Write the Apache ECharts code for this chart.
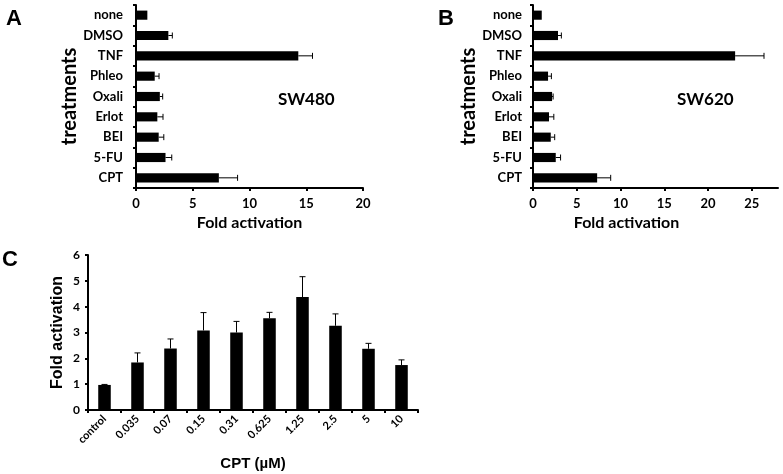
<!DOCTYPE html>
<html><head><meta charset="utf-8">
<script src="https://cdn.jsdelivr.net/npm/echarts@6/dist/echarts.min.js"></script>
<style>html,body{margin:0;padding:0;background:#fff}#c{width:783px;height:474px}</style>
</head><body><div id="c"></div>
<script>
const treatments = ['none','DMSO','TNF','Phleo','Oxali','Erlot','BEI','5-FU','CPT'];
const sw480Mean = [1.0, 2.85, 14.3, 1.65, 2.1, 1.88, 2.0, 2.6, 7.3];
const sw480Err  = [0.0, 0.35, 1.25, 0.38, 0.25, 0.5, 0.45, 0.55, 1.65];
const sw620Mean = [1.0, 2.86, 23.1, 1.72, 2.18, 1.83, 2.03, 2.6, 7.33];
const sw620Err  = [0.0, 0.38, 3.3, 0.38, 0.12, 0.55, 0.45, 0.55, 1.55];
const cptDoses = ['control','0.035','0.07','0.15','0.31','0.625','1.25','2.5','5','10'];
const cptMean = [0.97, 1.84, 2.38, 3.08, 3.0, 3.55, 4.37, 3.26, 2.37, 1.74];
const cptErr  = [0.02, 0.37, 0.37, 0.69, 0.43, 0.23, 0.79, 0.46, 0.21, 0.2];
const ticksB = [0,5,10,15,20,25];

const calibri = 'Lato';
const arial = 'Liberation Sans';
const axisLine = {show:true, lineStyle:{color:'#000', width:2}};
const axisTick = {show:true, length:3, lineStyle:{color:'#000', width:2}};

function hErr(params, api){
  const v = api.value(0), idx = api.value(1), e = api.value(2);
  if (e <= 0) return null;
  const p0 = api.coord([v, idx]);
  const p1 = api.coord([v+e, idx]);
  const h = 3;
  return {type:'group', children:[
    {type:'line', shape:{x1:p0[0], y1:p0[1], x2:p1[0], y2:p1[1]}, style:{stroke:'#000', lineWidth:1}},
    {type:'line', shape:{x1:p1[0], y1:p1[1]-h, x2:p1[0], y2:p1[1]+h}, style:{stroke:'#000', lineWidth:1}}
  ]};
}
function vErr(params, api){
  const idx = api.value(0), v = api.value(1), e = api.value(2);
  const p0 = api.coord([idx, v]);
  const p1 = api.coord([idx, v+e]);
  const w = 3;
  return {type:'group', children:[
    {type:'line', shape:{x1:p0[0], y1:p0[1], x2:p1[0], y2:p1[1]}, style:{stroke:'#000', lineWidth:1}},
    {type:'line', shape:{x1:p1[0]-w, y1:p1[1], x2:p1[0]+w, y2:p1[1]}, style:{stroke:'#000', lineWidth:1}}
  ]};
}

const chart = echarts.init(document.getElementById('c'));
chart.setOption({
  animation:false,
  backgroundColor:'#fff',
  graphic:[
    {type:'text', left:6, top:8, style:{text:'A', font:'bold 22px "Liberation Sans"', fill:'#000'}},
    {type:'text', left:438, top:8, style:{text:'B', font:'bold 22px "Liberation Sans"', fill:'#000'}},
    {type:'text', left:2, top:249, style:{text:'C', font:'bold 22px "Liberation Sans"', fill:'#000'}},
    {type:'text', left:278, top:91, style:{text:'SW480', font:'bold 17px Lato', fill:'#000'}},
    {type:'text', left:677, top:91, style:{text:'SW620', font:'bold 17px Lato', fill:'#000'}}
  ],
  grid:[
    {left:136, top:5, width:227, height:183},
    {left:533, top:5, width:245, height:183},
    {left:88, top:255, width:330, height:155}
  ],
  xAxis:[
    {type:'value', gridIndex:0, min:0, max:20, interval:5, splitLine:{show:false},
     axisLine, axisTick, axisLabel:{color:'#000', fontFamily:calibri, fontWeight:'bold', fontSize:13, margin:9},
     name:'Fold activation', nameLocation:'middle', nameGap:27,
     nameTextStyle:{color:'#000', fontFamily:calibri, fontWeight:'bold', fontSize:16}},
    {type:'value', gridIndex:1, min:0, max:28, interval:5, splitLine:{show:false},
     axisLine, axisTick:Object.assign({}, axisTick, {customValues:ticksB}),
     axisLabel:{color:'#000', fontFamily:calibri, fontWeight:'bold', fontSize:13, margin:9, customValues:ticksB},
     name:'Fold activation', nameLocation:'middle', nameGap:27,
     nameTextStyle:{color:'#000', fontFamily:calibri, fontWeight:'bold', fontSize:16, padding:[0,58,0,0]}},
    {type:'category', gridIndex:2, data:cptDoses, axisLine, axisTick,
     axisLabel:{color:'#000', fontFamily:calibri, fontWeight:'bold', fontSize:11, rotate:45, margin:7},
     name:'CPT (µM)', nameLocation:'middle', nameGap:46,
     nameTextStyle:{color:'#000', fontFamily:arial, fontWeight:'bold', fontSize:15}}
  ],
  yAxis:[
    {type:'category', gridIndex:0, data:treatments, inverse:true, axisLine, axisTick,
     axisLabel:{color:'#000', fontFamily:calibri, fontWeight:'bold', fontSize:13, margin:13},
     name:'treatments', nameLocation:'middle', nameGap:55, nameRotate:90,
     nameTextStyle:{color:'#000', fontFamily:calibri, fontWeight:'bold', fontSize:20}},
    {type:'category', gridIndex:1, data:treatments, inverse:true, axisLine, axisTick,
     axisLabel:{color:'#000', fontFamily:calibri, fontWeight:'bold', fontSize:13, margin:11},
     name:'treatments', nameLocation:'middle', nameGap:52, nameRotate:90,
     nameTextStyle:{color:'#000', fontFamily:calibri, fontWeight:'bold', fontSize:20}},
    {type:'value', gridIndex:2, min:0, max:6, interval:1, splitLine:{show:false}, axisLine, axisTick,
     axisLabel:{color:'#000', fontFamily:calibri, fontWeight:'bold', fontSize:12, margin:8},
     name:'Fold activation', nameLocation:'middle', nameGap:22, nameRotate:90,
     nameTextStyle:{color:'#000', fontFamily:arial, fontWeight:'bold', fontSize:16}}
  ],
  series:[
    {type:'bar', xAxisIndex:0, yAxisIndex:0, data:sw480Mean, barWidth:'45%', itemStyle:{color:'#000'}},
    {type:'custom', xAxisIndex:0, yAxisIndex:0, renderItem:hErr,
     data:sw480Mean.map((v,i)=>[v,i,sw480Err[i]]), encode:{x:0,y:1}, z:3},
    {type:'bar', xAxisIndex:1, yAxisIndex:1, data:sw620Mean, barWidth:'45%', itemStyle:{color:'#000'}},
    {type:'custom', xAxisIndex:1, yAxisIndex:1, renderItem:hErr,
     data:sw620Mean.map((v,i)=>[v,i,sw620Err[i]]), encode:{x:0,y:1}, z:3},
    {type:'bar', xAxisIndex:2, yAxisIndex:2, data:cptMean, barWidth:'38%', itemStyle:{color:'#000'}},
    {type:'custom', xAxisIndex:2, yAxisIndex:2, renderItem:vErr,
     data:cptMean.map((v,i)=>[i,v,cptErr[i]]), encode:{x:0,y:1}, z:3}
  ]
});
</script></body></html>
